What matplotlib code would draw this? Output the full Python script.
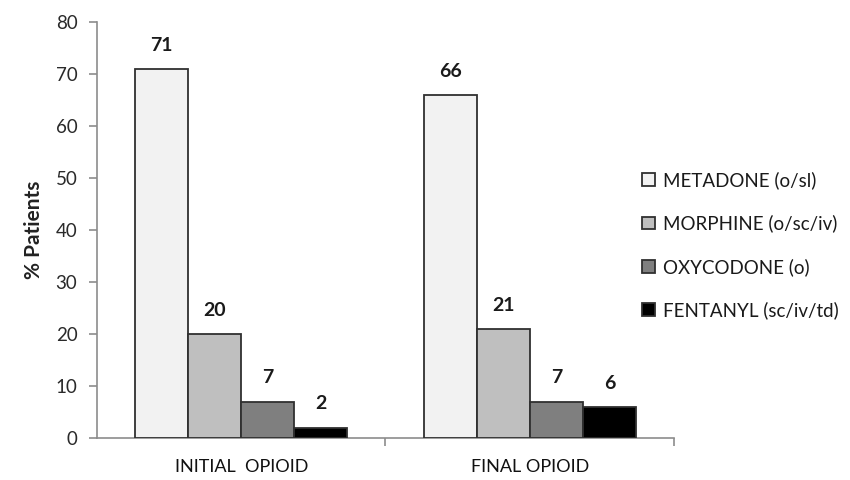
import matplotlib
matplotlib.use("Agg")
import matplotlib.pyplot as plt
import numpy as np

categories = ["INITIAL  OPIOID", "FINAL OPIOID"]
series_names = ["METADONE (o/sl)", "MORPHINE (o/sc/iv)", "OXYCODONE (o)", "FENTANYL (sc/iv/td)"]
metadone = [71, 66]
morphine = [20, 21]
oxycodone = [7, 7]
fentanyl = [2, 6]
yticks = [0, 10, 20, 30, 40, 50, 60, 70, 80]

series_values = [metadone, morphine, oxycodone, fentanyl]
colors = ["#f2f2f2", "#bfbfbf", "#7f7f7f", "#000000"]

plt.rcParams["font.family"] = ["Lato", "DejaVu Sans"]

fig = plt.figure(figsize=(8.5, 4.8), dpi=100)
ax = fig.add_axes([0.114, 0.0875, 0.679, 0.8665])

x = np.arange(len(categories))
width = 0.184
offsets = (np.arange(len(series_values)) - 1.5) * width

for vals, off, col, name in zip(series_values, offsets, colors, series_names):
    bars = ax.bar(x + off, vals, width=width, color=col, edgecolor="#303030",
                  linewidth=1.3, label=name, zorder=3)
    for b, v in zip(bars, vals):
        ax.annotate(f"{v}", (b.get_x() + b.get_width() / 2, v),
                    xytext=(0, 17), textcoords="offset points",
                    ha="center", va="center", fontsize=14, fontweight="bold",
                    color="#1a1a1a")

ax.set_xlim(-0.5, 1.5)
ax.set_ylim(0, 80)
ax.set_yticks(yticks)
ax.set_yticklabels([str(t) for t in yticks], fontsize=13.5, color="#2a2a2a")
ax.set_ylabel("% Patients", fontsize=15, fontweight="bold", color="#222222",
              labelpad=8)

# category boundary ticks on the x axis
ax.set_xticks([0.5, 1.5])
ax.set_xticklabels([])
ax.set_xticks(x, minor=True)
ax.set_xticklabels(categories, minor=True, fontsize=13, color="#111111")
ax.tick_params(axis="x", which="minor", length=0, pad=15)
ax.tick_params(axis="x", which="major", length=6, color="#8c8c8c", width=1.2)
ax.tick_params(axis="y", length=6, color="#8c8c8c", width=1.2, pad=8)

for side in ["top", "right"]:
    ax.spines[side].set_visible(False)
for side in ["left", "bottom"]:
    ax.spines[side].set_color("#8c8c8c")
    ax.spines[side].set_linewidth(1.2)

handles, labels = ax.get_legend_handles_labels()
fig.legend(handles, labels, loc="center left", bbox_to_anchor=(0.736, 0.489),
           frameon=False, fontsize=13.5, handlelength=0.65, handleheight=0.65,
           handletextpad=0.45, labelspacing=1.36, labelcolor="#1a1a1a")

fig.savefig("out.png", dpi=100)
